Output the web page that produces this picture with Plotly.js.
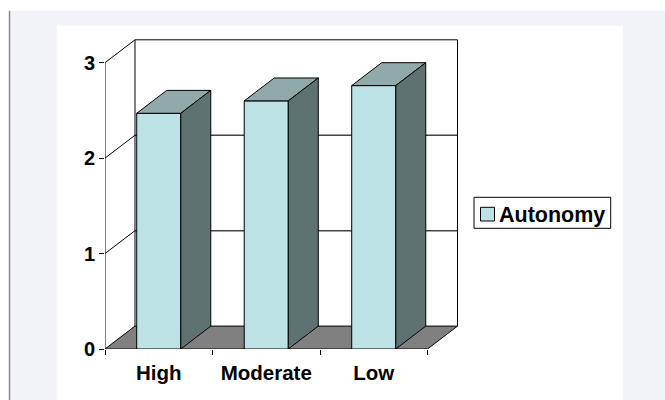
<!DOCTYPE html>
<html>
<head>
<meta charset="utf-8">
<script src="https://cdn.plot.ly/plotly-3.0.1.min.js"></script>
<style>html,body{margin:0;padding:0;background:#fff;}#chart{width:665px;height:400px;}</style>
</head>
<body>
<div id="chart"></div>
<script>
// ---- data ----
const categories = ["High", "Moderate", "Low"];
const autonomy = [2.47, 2.60, 2.76];
const yTicks = [0, 1, 2, 3];
const seriesName = "Autonomy";

// ---- style / geometry constants ----
const FRONT = "#bce2e5", TOP = "#8faaa9", SIDE = "#5f7272", FLOOR = "#808080";
const BAR_W = 0.41;   // category units
const DX = 0.279;     // depth offset, x units
const DY = 0.240;     // depth offset, y units
const L = 105, R = 205, T = 39, B = 51, W = 665, H = 400;
const PW = W - L - R, PH = H - T - B;
const xs = categories.map((c, i) => i);
const yMax = yTicks[yTicks.length - 1];
const xLo = -0.5, xHi = categories.length - 0.5;

const px = v => (v - L) / PW;          // pixel -> paper x
const py = v => (H - B - v) / PH;      // pixel -> paper y

const traces = [];
traces.push({
  type: "bar", x: xs, y: autonomy, width: BAR_W, name: seriesName,
  marker: {color: FRONT, line: {color: "#000", width: 1}},
  hoverinfo: "skip", showlegend: false
});
xs.forEach((x, i) => {
  const v = autonomy[i], a = x - BAR_W / 2, b = x + BAR_W / 2;
  traces.push({
    type: "scatter", mode: "lines", fill: "toself", fillcolor: TOP,
    x: [a, b, b + DX, a + DX, a], y: [v, v, v + DY, v + DY, v],
    line: {color: "#000", width: 1}, showlegend: false, hoverinfo: "skip"
  });
  traces.push({
    type: "scatter", mode: "lines", fill: "toself", fillcolor: SIDE,
    x: [b, b + DX, b + DX, b, b], y: [0, DY, v + DY, v, 0],
    line: {color: "#000", width: 1}, showlegend: false, hoverinfo: "skip"
  });
});

const shapes = [];
// page panels
shapes.push({type: "rect", xref: "paper", yref: "paper", x0: px(9.5), x1: px(680), y0: py(410), y1: py(10.7),
  fillcolor: "#f2f3f8", line: {width: 0}, layer: "below"});
shapes.push({type: "line", xref: "paper", yref: "paper", x0: px(9.5), x1: px(9.5), y0: py(410), y1: py(10.7),
  line: {color: "#8a8a8a", width: 1.5}, layer: "below"});
shapes.push({type: "rect", xref: "paper", yref: "paper", x0: px(56.7), x1: px(622.7), y0: py(410), y1: py(25.7),
  fillcolor: "#ffffff", line: {width: 0}, layer: "below"});
// floor
shapes.push({type: "path", xref: "x", yref: "y",
  path: `M ${xLo},0 L ${xHi},0 L ${xHi + DX},${DY} L ${xLo + DX},${DY} Z`,
  fillcolor: FLOOR, line: {color: "#000", width: 1}, layer: "below"});
// back wall gridlines and top edge
yTicks.slice(1).forEach(v => {
  shapes.push({type: "line", xref: "x", yref: "y", x0: xLo + DX, x1: xHi + DX, y0: v + DY, y1: v + DY,
    line: {color: v === yMax ? "#000" : "#444", width: v === yMax ? 1 : 1.5}, layer: "below"});
});
// back wall verticals
[xLo + DX, xHi + DX].forEach(x => {
  shapes.push({type: "line", xref: "x", yref: "y", x0: x, x1: x, y0: DY, y1: yMax + DY,
    line: {color: "#000", width: 1}, layer: "below"});
});
// left wall: front vertical and diagonals
shapes.push({type: "line", xref: "x", yref: "y", x0: xLo, x1: xLo, y0: 0, y1: yMax,
  line: {color: "#000", width: 1}, layer: "below"});
yTicks.slice(1).forEach(v => {
  shapes.push({type: "line", xref: "x", yref: "y", x0: xLo, x1: xLo + DX, y0: v, y1: v + DY,
    line: {color: "#000", width: 1}, layer: "below"});
});
// legend box and swatch
shapes.push({type: "rect", xref: "paper", yref: "paper", x0: px(474), x1: px(610.7), y0: py(228.3), y1: py(197.3),
  fillcolor: "#fff", line: {color: "#000", width: 1}});
shapes.push({type: "rect", xref: "paper", yref: "paper", x0: px(480.5), x1: px(494.5), y0: py(221), y1: py(207.3),
  fillcolor: FRONT, line: {color: "#000", width: 1}});

const layout = {
  width: W, height: H,
  margin: {l: L, r: R, t: T, b: B, pad: 0},
  paper_bgcolor: "#ffffff", plot_bgcolor: "rgba(0,0,0,0)",
  font: {family: "Liberation Sans, Arial, sans-serif", size: 20, color: "#000", weight: "bold"},
  hovermode: false,
  xaxis: {
    range: [xLo, xLo + PW / 107.5], tickmode: "array", tickvals: xs, ticktext: categories,
    ticks: "", showgrid: false, zeroline: false, showline: false, ticklabelstandoff: 9,
    tickfont: {size: 20.5, weight: "bold"}, fixedrange: true,
    minor: {tickmode: "array", tickvals: [xLo, 0.5, 1.5, xHi], ticks: "outside", ticklen: 5, tickcolor: "#000", tickwidth: 1, showgrid: false}
  },
  yaxis: {
    range: [0, PH / ((H - B - 62.7) / yMax)], tickmode: "array", tickvals: yTicks,
    ticks: "outside", ticklen: 5, tickcolor: "#000", tickwidth: 1,
    showgrid: false, zeroline: false, showline: false, fixedrange: true,
    tickfont: {size: 20, weight: "bold"}
  },
  showlegend: false,
  annotations: [{
    xref: "paper", yref: "paper", x: px(497), y: py(215), xanchor: "left", yanchor: "middle",
    text: seriesName, showarrow: false, font: {size: 21.5, weight: "bold", color: "#000"}
  }],
  shapes: shapes
};

Plotly.newPlot("chart", traces, layout, {displayModeBar: false, staticPlot: true});
</script>
</body>
</html>
